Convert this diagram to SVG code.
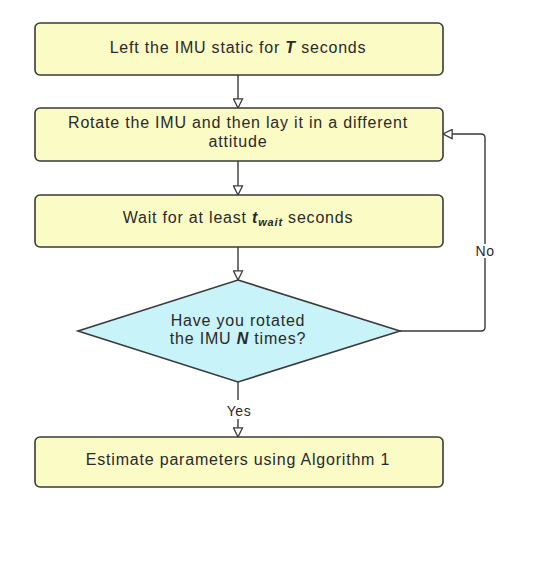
<svg xmlns="http://www.w3.org/2000/svg" width="541" height="577" viewBox="0 0 541 577">
<defs>
<style>
.box{fill:#fbfbc6;stroke:#3a3a3a;stroke-width:1.6}
.dia{fill:#c8f3f8;stroke:#3a3a3a;stroke-width:1.6}
.t{font-family:"Liberation Sans",Arial,sans-serif;font-size:16px;letter-spacing:0.8px;fill:#2a2a2a;text-anchor:middle}
.l{font-size:14px;letter-spacing:0.6px}
.c{fill:none;stroke:#3a3a3a;stroke-width:1.4}
</style>
<marker id="ah" viewBox="0 0 12 12" refX="11" refY="6" markerWidth="11" markerHeight="11" markerUnits="userSpaceOnUse" orient="auto">
<path d="M1,1 L11,6 L1,11 Z" fill="#ffffff" stroke="#3a3a3a" stroke-width="1.4"/>
</marker>
</defs>
<rect width="541" height="577" fill="#ffffff"/>
<g id="connectors">
<line class="c" x1="238" y1="75" x2="238" y2="108" marker-end="url(#ah)"/>
<line class="c" x1="238" y1="161" x2="238" y2="195" marker-end="url(#ah)"/>
<line class="c" x1="238" y1="247" x2="238" y2="280" marker-end="url(#ah)"/>
<line class="c" x1="238" y1="382" x2="238" y2="400"/>
<line class="c" x1="238" y1="419" x2="238" y2="437" marker-end="url(#ah)"/>
<path class="c" d="M400,331 L481,331 Q485,331 485,327 L485,258"/>
<path class="c" d="M485,244 L485,138 Q485,134 481,134 L443,134" marker-end="url(#ah)"/>
<text class="t l" x="485" y="256">No</text>
<text class="t l" x="239" y="416">Yes</text>
</g>
<g id="n1">
<rect class="box" x="35" y="23" width="408" height="52" rx="5"/>
<text class="t" x="238" y="53">Left the IMU static for <tspan font-weight="bold" font-style="italic">T</tspan> seconds</text>
</g>
<g id="n2">
<rect class="box" x="35" y="108" width="408" height="53" rx="5"/>
<text class="t" x="238" y="128">Rotate the IMU and then lay it in a different</text>
<text class="t" x="238" y="147">attitude</text>
</g>
<g id="n3">
<rect class="box" x="35" y="195" width="408" height="52" rx="5"/>
<text class="t" x="238" y="223">Wait for at least <tspan font-weight="bold" font-style="italic">t</tspan><tspan font-weight="bold" font-style="italic" font-size="11" dy="3">wait</tspan><tspan dy="-3"> seconds</tspan></text>
</g>
<g id="n4">
<polygon class="dia" points="238,280 400,331 238,382 78,331"/>
<text class="t" x="238" y="326">Have you rotated</text>
<text class="t" x="238" y="344">the IMU <tspan font-weight="bold" font-style="italic">N</tspan> times?</text>
</g>
<g id="n5">
<rect class="box" x="35" y="437" width="408" height="50" rx="5"/>
<text class="t" x="238" y="465">Estimate parameters using Algorithm 1</text>
</g>
</svg>
